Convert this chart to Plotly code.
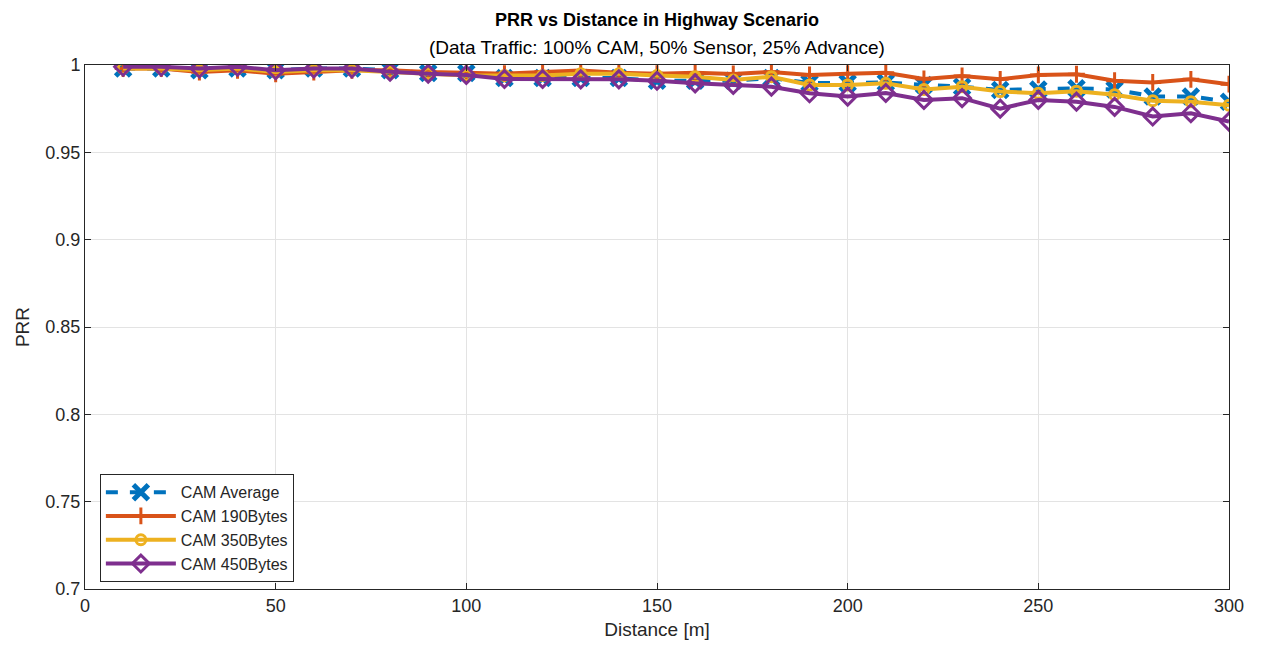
import plotly.graph_objects as go

distance = [10, 20, 30, 40, 50, 60, 70, 80, 90, 100, 110, 120, 130, 140, 150,
            160, 170, 180, 190, 200, 210, 220, 230, 240, 250, 260, 270, 280, 290, 300]

cam_avg = [0.998, 0.998, 0.997, 0.998, 0.997, 0.998, 0.998, 0.997, 0.9954, 0.9954,
           0.9925, 0.9925, 0.9925, 0.9925, 0.991, 0.991, 0.991, 0.9925, 0.9897, 0.9897,
           0.990, 0.9886, 0.9876, 0.9857, 0.986, 0.9867, 0.986, 0.982, 0.982, 0.979]
cam_190 = [0.998, 0.998, 0.996, 0.997, 0.995, 0.996, 0.997, 0.997, 0.996, 0.9956,
           0.995, 0.996, 0.9968, 0.9956, 0.995, 0.9956, 0.9949, 0.996, 0.9943, 0.995,
           0.9956, 0.992, 0.9937, 0.9918, 0.9943, 0.9947, 0.991, 0.990, 0.9918, 0.989]
cam_350 = [0.998, 0.998, 0.997, 0.998, 0.996, 0.997, 0.997, 0.996, 0.995, 0.994,
           0.994, 0.994, 0.995, 0.995, 0.994, 0.9933, 0.9914, 0.9933, 0.9886, 0.9886,
           0.9895, 0.986, 0.9876, 0.9848, 0.9838, 0.985, 0.983, 0.9796, 0.979, 0.977]
cam_450 = [0.999, 0.999, 0.998, 0.999, 0.997, 0.998, 0.998, 0.9962, 0.995, 0.9943,
           0.992, 0.992, 0.9918, 0.9918, 0.991, 0.9895, 0.9886, 0.9876, 0.9838, 0.9819,
           0.984, 0.980, 0.981, 0.975, 0.980, 0.979, 0.976, 0.9705, 0.9724, 0.9676]

series = [
    ("CAM Average", cam_avg, "#0072BD", "dash", dict(symbol="x-thin", size=15, line=dict(width=5, color="#0072BD"))),
    ("CAM 190Bytes", cam_190, "#D95319", "solid", dict(symbol="cross-thin", size=12, line=dict(width=3, color="#D95319"))),
    ("CAM 350Bytes", cam_350, "#EDB120", "solid", dict(symbol="circle-open", size=10, line=dict(width=3, color="#EDB120"))),
    ("CAM 450Bytes", cam_450, "#7E2F8E", "solid", dict(symbol="diamond-open", size=13, line=dict(width=3, color="#7E2F8E"))),
]

fig = go.Figure()
for name, vals, color, dash, marker in series:
    fig.add_trace(go.Scatter(
        x=distance, y=vals, name=name, mode="lines+markers",
        line=dict(color=color, width=4, dash=dash),
        marker=dict(color=color, **marker),
    ))

font = "Liberation Sans, Arial, sans-serif"
axis_common = dict(
    showgrid=True, gridcolor="#e3e3e3", gridwidth=1,
    showline=True, linecolor="#262626", linewidth=1, mirror="ticks",
    ticks="inside", ticklen=6, tickcolor="#262626",
    tickfont=dict(size=18, color="#262626", family=font),
    zeroline=False,
)
fig.update_xaxes(range=[0, 300], dtick=50, tick0=0,
                 title=dict(text="Distance [m]", font=dict(size=19, color="#262626", family=font), standoff=8),
                 **axis_common)
fig.update_yaxes(range=[0.7, 1.0], dtick=0.05, tick0=0.7, tickformat="~g",
                 title=dict(text="PRR", font=dict(size=19, color="#262626", family=font), standoff=10),
                 **axis_common)

fig.update_layout(
    width=1248, height=641,
    margin=dict(l=77, r=25, t=57, b=59),
    paper_bgcolor="white", plot_bgcolor="white",
    font=dict(family=font, color="#262626"),
    showlegend=True,
    legend=dict(x=0.013, y=0.219, xanchor="left", yanchor="top",
                bgcolor="white", bordercolor="#262626", borderwidth=1,
                font=dict(size=16, family=font, color="#262626"),
                tracegroupgap=0, itemwidth=70),
    annotations=[
        dict(text="<b>PRR vs Distance in Highway Scenario</b>", xref="paper", yref="paper",
             x=0.5, y=1, yshift=45, xanchor="center", yanchor="middle", showarrow=False,
             font=dict(size=18, family=font, color="black")),
        dict(text="(Data Traffic: 100% CAM, 50% Sensor, 25% Advance)", xref="paper", yref="paper",
             x=0.5, y=1, yshift=18, xanchor="center", yanchor="middle", showarrow=False,
             font=dict(size=19, family=font, color="black")),
    ],
)

fig.write_html("out.html")
